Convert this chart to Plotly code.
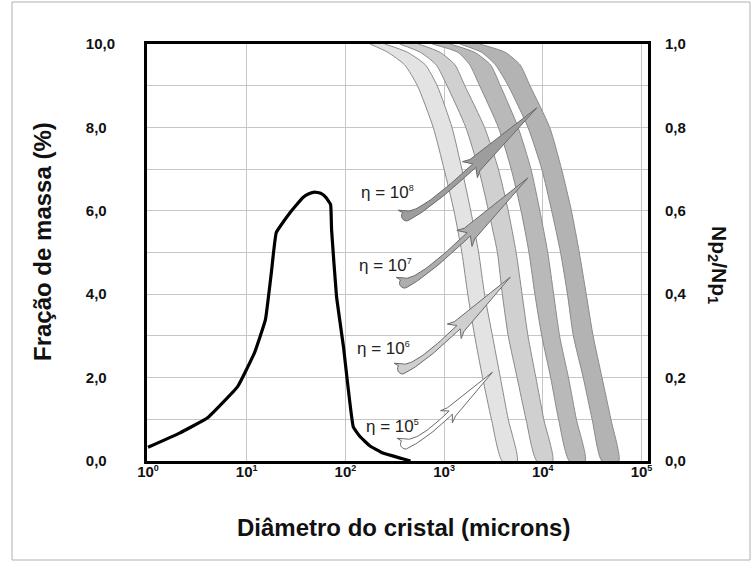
import numpy as np
import plotly.graph_objects as go

# ---------------- data ----------------
# Mass-fraction distribution (left axis). Diameter given as log10(microns).
mass_log_d = [0.00, 0.32, 0.60, 0.91, 1.08, 1.19, 1.25, 1.30, 1.44, 1.57, 1.63, 1.69,
              1.75, 1.80, 1.85, 1.86, 1.91, 1.98, 2.08, 2.15, 2.25, 2.38, 2.57, 2.66]
mass_fraction = [0.33, 0.67, 1.03, 1.79, 2.60, 3.39, 4.52, 5.48, 5.96, 6.32, 6.41, 6.45,
                 6.42, 6.33, 6.15, 5.55, 3.95, 2.75, 0.82, 0.58, 0.36, 0.19, 0.06, 0.00]

# Np2/Np1 bands (right axis): left and right edge of each band, log10(microns)
ratio_levels = [1.0, 0.98, 0.95, 0.9, 0.8, 0.7, 0.6, 0.5, 0.4, 0.3, 0.2, 0.1, 0.0]
band1_left = [2.25, 2.43, 2.60, 2.73, 2.89, 3.00, 3.10, 3.18, 3.24, 3.31, 3.39, 3.48, 3.59]
band1_right = [2.40, 2.63, 2.81, 2.93, 3.08, 3.18, 3.27, 3.35, 3.41, 3.49, 3.57, 3.65, 3.74]
band2_left = [2.55, 2.76, 2.92, 3.03, 3.22, 3.35, 3.45, 3.54, 3.59, 3.65, 3.74, 3.83, 3.94]
band2_right = [2.74, 2.96, 3.11, 3.21, 3.41, 3.55, 3.65, 3.73, 3.79, 3.85, 3.93, 4.01, 4.10]
band3_left = [2.88, 3.14, 3.26, 3.36, 3.55, 3.68, 3.78, 3.86, 3.92, 3.99, 4.08, 4.16, 4.27]
band3_right = [3.06, 3.31, 3.47, 3.57, 3.75, 3.88, 3.97, 4.05, 4.11, 4.17, 4.26, 4.34, 4.43]
band4_left = [3.16, 3.38, 3.52, 3.65, 3.85, 3.99, 4.09, 4.18, 4.25, 4.31, 4.41, 4.50, 4.60]
band4_right = [3.36, 3.62, 3.77, 3.87, 4.07, 4.19, 4.29, 4.37, 4.44, 4.51, 4.60, 4.69, 4.77]

# eta labels
eta_labels = ["η = 10<sup><span style='font-size:9px'>8</span></sup>",
              "η = 10<sup><span style='font-size:9px'>7</span></sup>",
              "η = 10<sup><span style='font-size:9px'>6</span></sup>",
              "η = 10<sup><span style='font-size:9px'>5</span></sup>"]

# axis tick labels
x_tick_vals = [1, 10, 100, 1000, 10000, 100000]
x_tick_text = ["10<sup><span style='font-size:9px'>%d</span></sup>" % k for k in range(6)]
y_tick_vals = [0, 1, 2, 3, 4, 5, 6, 7, 8, 9, 10]
y_tick_text = ["0,0&nbsp;&nbsp;", "", "2,0&nbsp;&nbsp;", "", "4,0&nbsp;&nbsp;", "",
               "6,0&nbsp;&nbsp;", "", "8,0&nbsp;&nbsp;", "", "10,0"]
y2_tick_vals = [0, 0.2, 0.4, 0.6, 0.8, 1.0]
y2_tick_text = ["0,0", "0,2", "0,4", "0,6", "0,8", "1,0"]

# ---------------- layout / style ----------------
W, H = 752, 571
ML, MR, MT, MB = 147, 104, 44, 110
PW, PH = W - ML - MR, H - MT - MB
X_RANGE = [-0.01, 5.066]
FONT = "Arial, Liberation Sans, sans-serif"

band_fills = ["#e3e3e3", "#d0d0d0", "#b9b9b9", "#b3b3b3"]
arrow_fills = ["#9d9d9d", "#adadad", "#cfcfcf", "#ffffff"]

# annotation placement (log10 d, ratio) for arrows and labels
arrow_tail = [(2.62, 0.588), (2.60, 0.427), (2.58, 0.221), (2.61, 0.041)]
arrow_tip = [(3.94, 0.847), (3.85, 0.679), (3.67, 0.441), (3.49, 0.213)]
barb_half = [11.0, 11.0, 10.0, 8.5]
label_pos = [(2.43, 0.643), (2.41, 0.468), (2.39, 0.269), (2.48, 0.082)]


def to_px(logd, r):
    return np.array([ML + (logd - X_RANGE[0]) / (X_RANGE[1] - X_RANGE[0]) * PW,
                     MT + (1 - r) * PH])


def from_px(pts):
    pts = np.asarray(pts)
    logd = X_RANGE[0] + (pts[:, 0] - ML) / PW * (X_RANGE[1] - X_RANGE[0])
    r = 1 - (pts[:, 1] - MT) / PH
    return logd, r


def arrow_polygon(tail, tip, bh):
    T = to_px(*tail)
    Hp = to_px(*tip)
    B = T + 0.52 * (Hp - T) + np.array([0.0, 6.0])
    d = (Hp - B) / np.linalg.norm(Hp - B)
    n = np.array([-d[1], d[0]])
    k = (T[1] - 2 - B[1]) / (-d[1])
    C = B - k * d
    s = np.linspace(0, 1, 24)
    P = ((1 - s) ** 2)[:, None] * T + (2 * (1 - s) * s)[:, None] * C + (s ** 2)[:, None] * B
    tg = 2 * (1 - s)[:, None] * (C - T) + 2 * s[:, None] * (B - C)
    tg = tg / np.linalg.norm(tg, axis=1)[:, None]
    nn = np.stack([-tg[:, 1], tg[:, 0]], axis=1)
    w = 2.3 + 2.8 * (1 - s) ** 4
    upper = P - w[:, None] * nn
    lower = P + w[:, None] * nn
    head = [B - bh * n - 6 * d, B - 0.68 * bh * n + 1 * d, Hp,
            B + 0.68 * bh * n + 1 * d, B + bh * n - 6 * d]
    t0, n0, w0 = tg[0], nn[0], w[0]
    cap = []
    for phi in np.linspace(0, np.pi, 9):
        cap.append(T + w0 * (np.cos(phi) * n0 + np.sin(phi) * (-t0)))
    cap[-2] = T - 1.3 * w0 * n0 - 1.5 * w0 * t0  # small hook
    pts = list(upper) + head + list(lower[::-1]) + cap
    pts.append(pts[0])
    return from_px(np.array(pts))


fig = go.Figure()

# gray bands (closed region between left and right edges)
bands = [(band1_left, band1_right), (band2_left, band2_right),
         (band3_left, band3_right), (band4_left, band4_right)]
for (left, right), col in zip(bands, band_fills):
    xs = [10 ** v for v in left] + [10 ** v for v in right[::-1]]
    ys = ratio_levels + ratio_levels[::-1]
    fig.add_trace(go.Scatter(x=xs, y=ys, yaxis="y2", mode="lines", fill="toself",
                             fillcolor=col,
                             line=dict(color="#8a8a8a", width=1, shape="spline", smoothing=0.6),
                             hoverinfo="skip", showlegend=False))

# arrows
for tail, tip, bh, col in zip(arrow_tail, arrow_tip, barb_half, arrow_fills):
    lx, ly = arrow_polygon(tail, tip, bh)
    fig.add_trace(go.Scatter(x=10 ** lx, y=ly, yaxis="y2", mode="lines", fill="toself",
                             fillcolor=col, line=dict(color="#6a6a6a", width=1),
                             hoverinfo="skip", showlegend=False))

# mass fraction curve
fig.add_trace(go.Scatter(x=[10 ** v for v in mass_log_d], y=mass_fraction, mode="lines",
                         line=dict(color="black", width=3.2, shape="spline", smoothing=0.3),
                         hoverinfo="skip", showlegend=False))

annotations = []
for txt, (lx, ly) in zip(eta_labels, label_pos):
    annotations.append(dict(x=lx, y=ly, xref="x", yref="y2", text=txt, showarrow=False,
                            xanchor="center", yanchor="middle",
                            font=dict(family=FONT, size=17, color="#222222")))

annotations += [
    dict(x=(403 - ML) / PW, y=(H - MB - 527) / PH, xref="paper", yref="paper",
         xanchor="center", yanchor="middle",
         text="Diâmetro do cristal (microns)", showarrow=False,
         font=dict(family=FONT, size=24, color="#111111", weight="bold")),
    dict(x=(42 - ML) / PW, y=(H - MB - 242) / PH, xref="paper", yref="paper",
         xanchor="center", yanchor="middle",
         text="Fração de massa (%)", showarrow=False, textangle=-90,
         font=dict(family=FONT, size=24, color="#111111", weight="bold")),
    dict(x=(718 - ML) / PW, y=(H - MB - 265) / PH, xref="paper", yref="paper",
         xanchor="center", yanchor="middle",
         text="Np<sub>2</sub>/Np<sub>1</sub>", showarrow=False, textangle=90,
         font=dict(family=FONT, size=21, color="#111111", weight="bold")),
]

tickfont = dict(family=FONT, size=15, color="#111111", weight="bold")
fig.update_layout(
    width=W, height=H,
    margin=dict(l=ML, r=MR, t=MT, b=MB),
    paper_bgcolor="white", plot_bgcolor="white",
    showlegend=False,
    xaxis=dict(type="log", range=X_RANGE, tickvals=x_tick_vals, ticktext=x_tick_text,
               showgrid=True, gridcolor="#c6c6c6", gridwidth=1, zeroline=False,
               showline=True, linecolor="black", linewidth=3, mirror=True,
               ticks="", tickfont=dict(family=FONT, size=15, color="#111111", weight="bold"),
               ticklabelstandoff=-5),
    yaxis=dict(range=[0, 10], tickvals=y_tick_vals, ticktext=y_tick_text,
               showgrid=True, gridcolor="#c6c6c6", gridwidth=1, zeroline=False,
               showline=True, linecolor="black", linewidth=3, mirror=True,
               ticks="", tickfont=tickfont, ticklabelstandoff=26),
    yaxis2=dict(range=[0, 1], overlaying="y", side="right", tickvals=y2_tick_vals,
                ticktext=y2_tick_text, showgrid=False, zeroline=False, showline=False,
                ticks="", tickfont=tickfont, ticklabelstandoff=16),
    annotations=annotations,
    shapes=[dict(type="rect", xref="paper", yref="paper",
                 x0=(12 - ML) / PW, x1=(750 - ML) / PW,
                 y0=(H - MB - 560) / PH, y1=(H - MB - 2) / PH,
                 line=dict(color="#b0b0b0", width=1), layer="below")],
)

fig.write_html("out.html", config={"displayModeBar": False},
               post_script="document.body.style.margin='0';document.body.style.overflow='hidden';")
